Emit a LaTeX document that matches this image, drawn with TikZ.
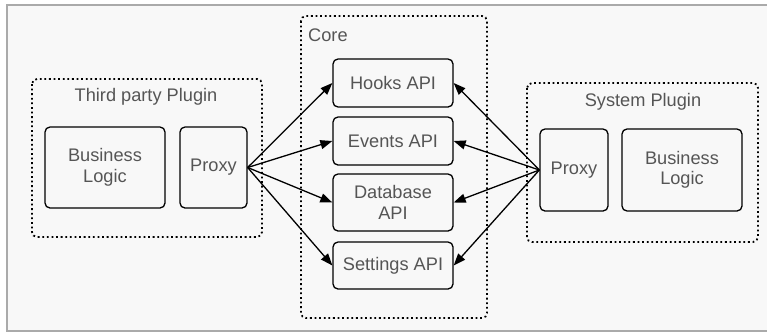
\documentclass[tikz,border=0pt]{standalone}
\usepackage{fontspec}
\setmainfont{Liberation Sans}
\usetikzlibrary{arrows.meta}
\definecolor{txt}{HTML}{555555}
\definecolor{frame}{HTML}{AAAAAA}
\definecolor{bg}{HTML}{F8F8F8}
\tikzset{
  box/.style={draw=black, line width=1.3pt, rounded corners=5pt, align=center,
    text=txt, font=\fontsize{18.2}{20.5}\selectfont, inner sep=0pt},
  group/.style={draw=black, line width=1.8pt, dash pattern=on 1.8pt off 2.8pt, rounded corners=5pt},
  title/.style={text=txt, font=\fontsize{18.2}{20.5}\selectfont, inner sep=0pt},
  link/.style={line width=1.3pt, -{Triangle[length=12pt,width=9pt]}}
}
\begin{document}
\begin{tikzpicture}[x=1pt,y=-1pt]
\useasboundingbox (0,0) rectangle (767,333);
\draw[frame, fill=bg, line width=2pt] (7,5) rectangle (790,331);

% groups
\draw[group] (32,79) rectangle (262,237);
\draw[group] (301,16) rectangle (487,318);
\draw[group] (527,83) rectangle (758,242);

\node[title] (t1) at (146,97) {Third party Plugin};
\node[title, anchor=west] (t2) at (308,35) {Core};
\node[title] (t3) at (643,102) {System Plugin};

% left plugin
\node[box, minimum width=120pt, minimum height=81pt] (bl1) at (105,167.5) {Business\\Logic};
\node[box, minimum width=67pt, minimum height=81pt] (px1) at (213.5,167.5) {Proxy};

% core
\node[box, minimum width=120pt, minimum height=48pt] (hooks) at (393,83) {Hooks API};
\node[box, minimum width=120pt, minimum height=48pt] (events) at (393,141) {Events API};
\node[box, minimum width=120pt, minimum height=57pt] (db) at (393,202.5) {Database\\API};
\node[box, minimum width=120pt, minimum height=47pt] (settings) at (393,265.5) {Settings API};

% right plugin
\node[box, minimum width=68pt, minimum height=82pt] (px2) at (574,170) {Proxy};
\node[box, minimum width=120pt, minimum height=82pt] (bl2) at (682,170) {Business\\Logic};

% arrows
\foreach \n in {hooks,events,db,settings}{
  \draw[link] (px1.east) -- (\n.west);
  \draw[link] (px2.west) -- (\n.east);
}
\end{tikzpicture}
\end{document}
